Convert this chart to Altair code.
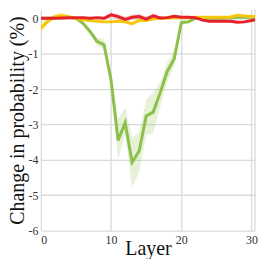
import altair as alt
import pandas as pd

layers = list(range(32))

green_mean = [0.0, 0.0, 0.01, 0.02, 0.03, 0.0, -0.14, -0.37, -0.65, -0.75, -1.75, -3.45,
              -2.95, -4.07, -3.75, -2.76, -2.65, -2.1, -1.5, -1.14, -0.12, -0.1, 0.0, 0.0,
              0.0, 0.0, 0.0, 0.02, 0.03, 0.03, 0.03, 0.02]
green_lo = [-0.02, -0.02, -0.01, 0.0, 0.01, -0.03, -0.2, -0.45, -0.78, -0.86, -1.9, -3.98,
            -3.27, -4.78, -4.35, -3.3, -3.25, -2.5, -1.8, -1.35, -0.2, -0.14, -0.02, -0.02,
            -0.02, -0.02, -0.02, 0.0, 0.01, 0.01, 0.01, 0.0]
green_hi = [0.02, 0.02, 0.03, 0.04, 0.05, 0.03, -0.1, -0.3, -0.55, -0.58, -1.6, -2.85,
            -2.52, -3.37, -3.23, -2.3, -2.1, -1.8, -1.25, -0.9, -0.05, -0.06, 0.02, 0.02,
            0.02, 0.02, 0.02, 0.04, 0.05, 0.05, 0.05, 0.04]

yellow_mean = [-0.28, -0.08, 0.05, 0.08, 0.04, 0.0, -0.04, -0.06, -0.08, -0.1, -0.1, -0.08,
               -0.1, -0.15, -0.06, -0.06, -0.02, 0.0, 0.01, 0.02, 0.02, 0.02, 0.03, 0.03,
               0.03, 0.03, 0.03, 0.04, 0.09, 0.07, 0.05, 0.05]
yellow_lo = [-0.45, -0.16, -0.02, 0.02, 0.0, -0.03, -0.07, -0.09, -0.11, -0.13, -0.13, -0.11,
             -0.14, -0.2, -0.1, -0.09, -0.05, -0.03, -0.02, -0.01, -0.01, -0.01, 0.0, 0.0,
             0.0, 0.0, 0.0, 0.01, 0.05, 0.04, 0.02, 0.02]
yellow_hi = [-0.12, 0.0, 0.12, 0.16, 0.1, 0.03, -0.01, -0.03, -0.05, -0.07, -0.07, -0.05,
             -0.06, -0.1, -0.02, -0.03, 0.01, 0.03, 0.04, 0.05, 0.05, 0.05, 0.06, 0.06,
             0.06, 0.06, 0.06, 0.07, 0.12, 0.1, 0.08, 0.08]

red_mean = [0.0, 0.0, 0.0, 0.01, 0.02, 0.02, 0.02, 0.0, 0.02, 0.0, 0.1, 0.05,
            -0.03, 0.03, 0.05, -0.02, 0.07, 0.01, 0.02, 0.06, 0.03, 0.03, 0.02, -0.05,
            -0.08, -0.08, -0.08, -0.08, -0.11, -0.1, -0.06, -0.03]
red_lo = [-0.02, -0.02, -0.02, -0.01, 0.0, 0.0, 0.0, -0.02, -0.01, -0.04, 0.04, -0.02,
          -0.1, -0.04, -0.02, -0.09, 0.0, -0.03, -0.02, 0.02, 0.0, 0.0, -0.01, -0.08,
          -0.11, -0.11, -0.11, -0.11, -0.14, -0.13, -0.09, -0.06]
red_hi = [0.02, 0.02, 0.02, 0.03, 0.04, 0.04, 0.04, 0.02, 0.05, 0.04, 0.16, 0.12,
          0.04, 0.1, 0.12, 0.05, 0.14, 0.05, 0.06, 0.1, 0.06, 0.06, 0.05, -0.02,
          -0.05, -0.05, -0.05, -0.05, -0.08, -0.07, -0.03, 0.0]

series = [
    ("green", "#8dc04b", green_mean, green_lo, green_hi),
    ("yellow", "#f7c80a", yellow_mean, yellow_lo, yellow_hi),
    ("red", "#e52229", red_mean, red_lo, red_hi),
]

x_ticks = [0, 10, 20, 30]
y_ticks = [-6, -5, -4, -3, -2, -1, 0]
x_domain = [0, 30.5]
y_domain = [-6, 0.25]

FONT = "Liberation Serif"
GRID = "#dadada"

xscale = alt.Scale(domain=x_domain, nice=False)
yscale = alt.Scale(domain=y_domain, nice=False)

common = dict(grid=True, domain=False, ticks=False, gridColor=GRID, gridWidth=1.3,
              labelFont=FONT, labelFontSize=12, labelColor="#333333",
              titleFont=FONT, titleFontSize=20, titleFontWeight="normal",
              titleColor="#111111")

xaxis = alt.Axis(values=x_ticks, title="Layer", labelPadding=4,
                 titleBaseline="alphabetic", titleY=24, **common)
yaxis = alt.Axis(values=y_ticks, title="Change in probability (%)",
                 labelPadding=3, titlePadding=0,
                 labelExpr="datum.value < 0 ? '-' + abs(datum.value) : '' + datum.value",
                 **common)

bands = []
lines = []
for name, color, m, lo, hi in series:
    df = pd.DataFrame({"layer": layers, "mean": m, "lo": lo, "hi": hi})
    base = alt.Chart(df)
    bands.append(base.mark_area(color=color, opacity=0.22, clip=True).encode(
        x=alt.X("layer:Q", scale=xscale, axis=xaxis),
        y=alt.Y("lo:Q", scale=yscale, axis=yaxis),
        y2="hi:Q",
    ))
    lines.append(base.mark_line(color=color, strokeWidth=3, clip=True).encode(
        x=alt.X("layer:Q", scale=xscale, axis=xaxis),
        y=alt.Y("mean:Q", scale=yscale, axis=yaxis),
    ))

edge = alt.Chart(pd.DataFrame({"edge": [x_domain[1]]})).mark_rule(
    color=GRID, strokeWidth=1.3).encode(
    x=alt.X("edge:Q", scale=xscale, axis=xaxis)
)

chart = alt.layer(edge, *bands, *lines).properties(
    width=215, height=222, padding=0
).configure_view(stroke=None)

chart.save("out.html", embed_options={"renderer": "svg", "actions": False})
